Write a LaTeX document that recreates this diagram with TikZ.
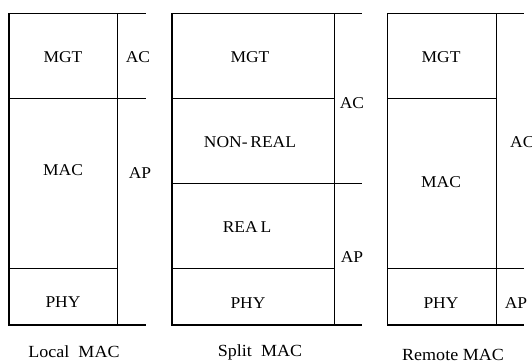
\documentclass[tikz,border=0pt]{standalone}
\usepackage{fontspec}
\setmainfont{Liberation Serif}[FakeStretch=1.06]
\begin{document}
\begin{tikzpicture}[x=1pt,y=-1pt,
  ln/.style={line width=1.1pt,black},
  lbl/.style={inner sep=0pt,font=\fontsize{16.5}{19}\selectfont},
  captxt/.style={inner sep=0pt,font=\fontsize{17}{20}\selectfont}]
\useasboundingbox (0,0) rectangle (532,363);
% ---- Local MAC ----
\draw[ln] (9,13.3) rectangle (117.7,325);
\draw[ln] (9,98.3) -- (145.7,98.3);
\draw[ln] (9,268.3) -- (117.7,268.3);
\draw[ln] (117.7,13.3) -- (145.7,13.3);
\draw[ln] (117.7,325) -- (145.7,325);
\node[lbl] (lmgt) at (63,57) {MGT};
\node[lbl] (lmac) at (63,170) {MAC};
\node[lbl] (lphy) at (63,302) {PHY};
\node[lbl] (lac) at (138,57) {AC};
\node[lbl] (lap) at (140,173) {AP};
\node[captxt] (lcap) at (74,352) {Local\ \ MAC};
% ---- Split MAC ----
\draw[ln] (172,13.3) rectangle (334.3,325);
\draw[ln] (172,98.3) -- (334.3,98.3);
\draw[ln] (172,183.3) -- (361.7,183.3);
\draw[ln] (172,268.3) -- (334.3,268.3);
\draw[ln] (334.3,13.3) -- (361.7,13.3);
\draw[ln] (334.3,325) -- (361.7,325);
\node[lbl] (smgt) at (250,57) {MGT};
\node[lbl] (snon) at (250,142) {NON-\,REAL};
\node[lbl] (sreal) at (247,227) {REA\,L};
\node[lbl] (sphy) at (248,303) {PHY};
\node[lbl] (sac) at (352,103) {AC};
\node[lbl] (sap) at (352,257) {AP};
\node[captxt] (scap) at (260,352) {Split\ \ MAC};
% ---- Remote MAC ----
\draw[ln] (387.3,13.3) rectangle (496.7,325);
\draw[ln] (387.3,98.3) -- (496.7,98.3);
\draw[ln] (387.3,268.3) -- (524,268.3);
\draw[ln] (496.7,13.3) -- (524,13.3);
\draw[ln] (496.7,325) -- (524,325);
\node[lbl] (rmgt) at (441,57) {MGT};
\node[lbl] (rmac) at (441,182) {MAC};
\node[lbl] (rphy) at (441,303) {PHY};
\node[lbl,anchor=west] (rac) at (510,142) {AC};
\node[lbl] (rap) at (516,303) {AP};
\node[captxt] (rcap) at (453,355) {Remote MAC};
\end{tikzpicture}
\end{document}
